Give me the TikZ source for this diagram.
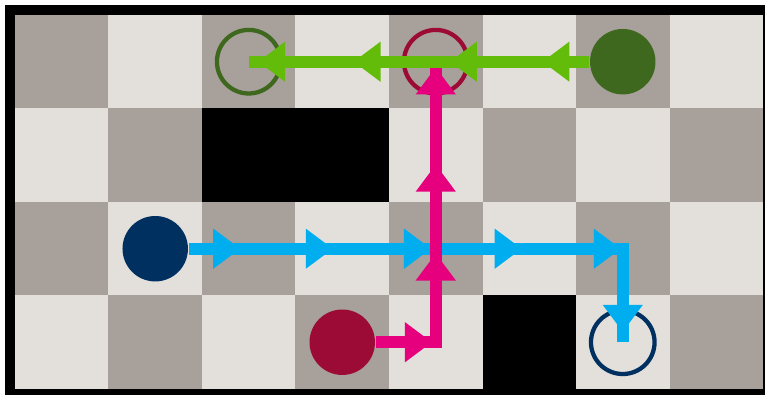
\documentclass[tikz,border=0pt]{standalone}
\usetikzlibrary{arrows.meta}

\definecolor{celldark}{RGB}{168,160,154}
\definecolor{celllight}{RGB}{227,224,220}
\definecolor{limegreen}{RGB}{100,188,10}
\definecolor{forestgreen}{RGB}{62,104,30}
\definecolor{hotpink}{RGB}{230,0,126}
\definecolor{crimson}{RGB}{156,10,54}
\definecolor{skyblue}{RGB}{0,173,238}
\definecolor{navyblue}{RGB}{0,48,95}

\begin{document}
\begin{tikzpicture}[
  agent/.style={circle,inner sep=0pt,minimum size=0.7cm},
  goalring/.style={circle,inner sep=0pt,minimum size=0.68cm,line width=1.3pt},
  route/.style={line width=0.125cm,line join=miter},
  pathhead/.style={-{Triangle[length=0.29cm,width=0.41cm]}}
]

\useasboundingbox (-0.16,-0.096) rectangle (8.064,4.16);
\fill[white] (-0.16,-0.096) rectangle (8.064,4.16);

%------------------------------------------------
% Board
%------------------------------------------------
\fill[black] (-0.107,-0.064) rectangle (8.021,4.107);

\foreach \i in {0,...,7}
  \foreach \j in {0,...,3}{
    \ifodd\numexpr\i+\j\relax
      \fill[celldark] (\i,\j) rectangle ++(1,1);
    \else
      \fill[celllight] (\i,\j) rectangle ++(1,1);
    \fi
  }

% Obstacles
\fill[black] (2,2) rectangle (4,3);
\fill[black] (5,0) rectangle (6,1);

%------------------------------------------------
% Agents and goals
%------------------------------------------------
\node[goalring,draw=forestgreen] (greengoal) at (2.5,3.5) {};
\node[goalring,draw=crimson] (redgoal) at (4.5,3.5) {};
\node[goalring,draw=navyblue] (navygoal) at (6.5,0.5) {};

\node[agent,fill=forestgreen] (greenstart) at (6.5,3.5) {};
\node[agent,fill=navyblue] (navystart) at (1.5,1.5) {};
\node[agent,fill=crimson] (redstart) at (3.5,0.5) {};

\coordinate (bluecorner) at (6.5,1.5);
\coordinate (pinkcorner) at (4.5,0.5);

%------------------------------------------------
% Blue route
%------------------------------------------------
\draw[route,skyblue] (navystart) -- (bluecorner) -- (navygoal.center);

\foreach \x in {2.41,3.40,4.45,5.42,6.48}
  \draw[route,skyblue,pathhead] (\x-0.4,1.5) -- (\x,1.5);
\draw[route,skyblue,pathhead] (6.5,1.1) -- (6.5,0.61);

%------------------------------------------------
% Pink route
%------------------------------------------------
\draw[route,hotpink] (redstart) -- (pinkcorner) -- (redgoal.center);

\draw[route,hotpink,pathhead] (4.0,0.5) -- (4.46,0.5);
\foreach \y in {1.45,2.40,3.44}
  \draw[route,hotpink,pathhead] (4.5,\y-0.4) -- (4.5,\y);

%------------------------------------------------
% Green route
%------------------------------------------------
\draw[route,limegreen] (greenstart) -- (greengoal.center);

\foreach \x in {5.64,4.65,3.62,2.60}
  \draw[route,limegreen,pathhead] (\x+0.4,3.5) -- (\x,3.5);

\end{tikzpicture}
\end{document}
